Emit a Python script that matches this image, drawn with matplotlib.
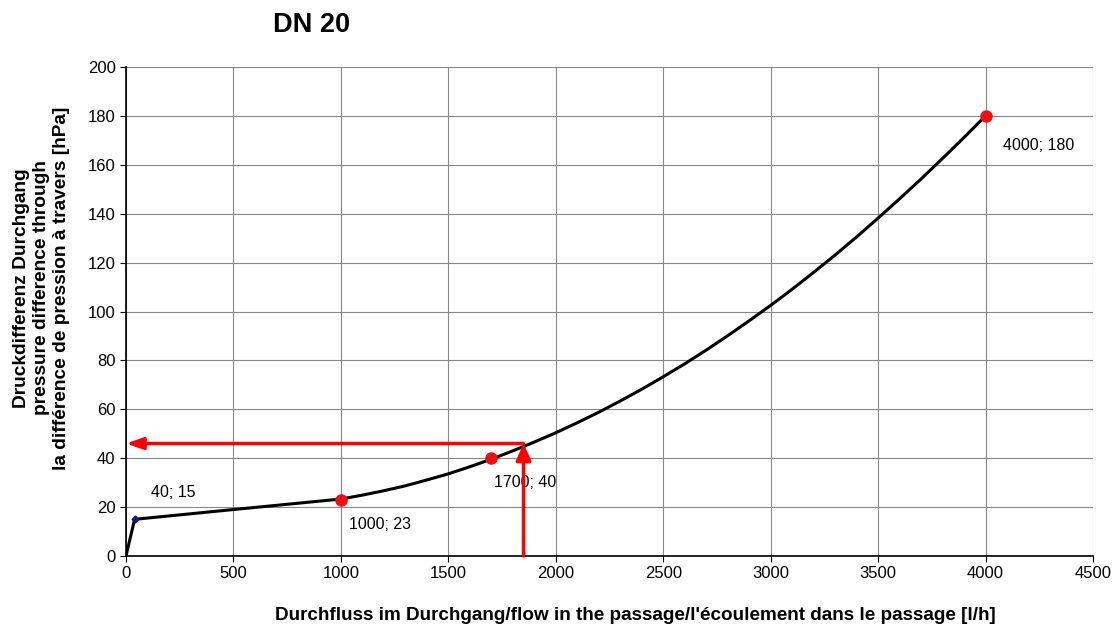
import matplotlib
matplotlib.use("Agg")
import matplotlib.pyplot as plt

plt.rcParams['font.family'] = ['Liberation Sans', 'DejaVu Sans']

# curve (flow l/h, pressure hPa)
curve_x = [0, 40, 500, 1000, 1100, 1200, 1300, 1400, 1500, 1600, 1700, 1800, 1900, 2000,
           2100, 2200, 2300, 2400, 2500, 2600, 2700, 2800, 2900, 3000,
           3100, 3200, 3300, 3400, 3500, 3600, 3700, 3800, 3900, 4000]
curve_y = [0, 15, 19, 23.3, 24.9, 26.7, 28.7, 31.1, 33.6, 36.5, 39.6, 43.0, 46.6, 50.4,
           54.5, 58.8, 63.4, 68.2, 73.3, 78.6, 84.2, 90.1, 96.2, 102.5,
           109.1, 116.0, 123.1, 130.5, 138.2, 146.1, 154.2, 162.6, 171.2, 180]

# labelled points
pt_x = [1000, 1700, 4000]
pt_y = [23, 40, 180]
pt_labels = ["1000; 23", "1700; 40", "4000; 180"]
start_x, start_y, start_label = 40, 15, "40; 15"

# reading arrows
read_flow = 1850
read_dp = 46

fig = plt.figure(figsize=(11.17, 6.25), dpi=100)
ax = fig.add_axes([0.1128, 0.1104, 0.8657, 0.7824])

ax.plot(curve_x, curve_y, color='black', lw=2.2, zorder=3, solid_joinstyle='round')
ax.plot(pt_x, pt_y, 'o', color='#ee1111', ms=8, zorder=4)
ax.plot([start_x], [start_y], 'D', color='#1a1a6e', ms=3.5, zorder=5)

fs_ann = 11.5
ax.text(116, 26, start_label, fontsize=fs_ann, va='center', ha='left')
ax.text(1040, 13, pt_labels[0], fontsize=fs_ann, va='center', ha='left')
ax.text(1713, 30, pt_labels[1], fontsize=fs_ann, va='center', ha='left')
ax.text(4083, 168, pt_labels[2], fontsize=fs_ann, va='center', ha='left')

red = '#ff0000'
ax.annotate('', xy=(read_flow, read_dp), xytext=(read_flow, 0),
            arrowprops=dict(arrowstyle='-|>,head_width=0.45,head_length=1.0', color=red, lw=2.5,
                            shrinkA=0, shrinkB=0), zorder=6, annotation_clip=False)
ax.annotate('', xy=(0, read_dp), xytext=(read_flow, read_dp),
            arrowprops=dict(arrowstyle='-|>,head_width=0.35,head_length=1.0', color=red, lw=2.5,
                            shrinkA=0, shrinkB=0), zorder=6, annotation_clip=False)

ax.set_xlim(0, 4500)
ax.set_ylim(0, 200)
ax.set_xticks(range(0, 4501, 500))
ax.set_yticks(range(0, 201, 20))
ax.grid(True, color='#888888', lw=0.8)
ax.tick_params(labelsize=12, length=4, direction='out')
for s in ['top', 'right']:
    ax.spines[s].set_visible(False)
for s in ['left', 'bottom']:
    ax.spines[s].set_linewidth(1.2)

fig.text(0.569, 0.0144,
         "Durchfluss im Durchgang/flow in the passage/l'écoulement dans le passage [l/h]",
         fontsize=13.6, fontweight='bold', ha='center', va='center')
fig.text(41.5 / 1117, 1 - 288 / 625,
         "Druckdifferenz Durchgang\npressure difference through\nla différence de pression à travers [hPa]",
         fontsize=13.8, fontweight='bold', rotation=90, ha='center', va='center',
         multialignment='center', linespacing=1.2)
fig.text(312 / 1117, 1 - 25 / 625, "DN 20", fontsize=19.5, fontweight='bold', ha='center', va='center')

fig.savefig("out.png", dpi=100)
